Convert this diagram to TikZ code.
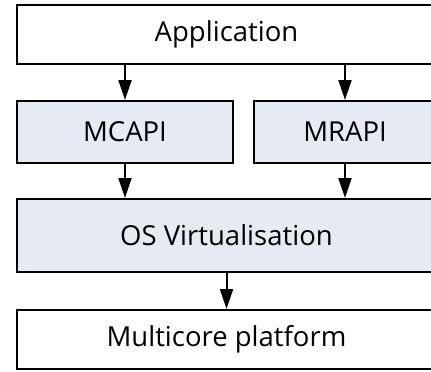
\documentclass[tikz,border=0pt]{standalone}
\usepackage{fontspec}
\setmainfont{Open Sans}
\usetikzlibrary{arrows.meta}
\definecolor{layerfill}{RGB}{230,234,243}
\tikzset{
  layer/.style={draw=black, line width=2pt, inner sep=0pt, anchor=center,
    font=\fontsize{27.5}{32}\selectfont, text=black},
  plain/.style={layer, fill=white},
  shaded/.style={layer, fill=layerfill},
  flow/.style={line width=2pt, -{Triangle[length=20pt,width=13pt]}}
}
\begin{document}
\begin{tikzpicture}[x=1pt,y=-1pt]
  \useasboundingbox (0,0) rectangle (431,372);
  \clip (0,0) rectangle (431,372);
  % layers of the stack
  \node[plain, minimum width=419pt, minimum height=59pt] (app) at (226.5,34.5) {Application};
  \node[shaded, minimum width=216pt, minimum height=62pt] (mcapi) at (125,132) {MCAPI};
  \node[shaded, minimum width=182pt, minimum height=62pt] (mrapi) at (345,132) {MRAPI};
  \node[shaded, minimum width=419pt, minimum height=73pt] (os) at (226.5,235.5) {OS Virtualisation};
  \node[plain, minimum width=419pt, minimum height=59pt] (hw) at (226.5,339.5) {Multicore platform};
  % downward flow between layers
  \draw[flow] (app.south -| mcapi) -- (mcapi.north);
  \draw[flow] (app.south -| mrapi) -- (mrapi.north);
  \draw[flow] (mcapi.south) -- (os.north -| mcapi);
  \draw[flow] (mrapi.south) -- (os.north -| mrapi);
  \draw[flow] (os.south) -- (hw.north);
\end{tikzpicture}
\end{document}
